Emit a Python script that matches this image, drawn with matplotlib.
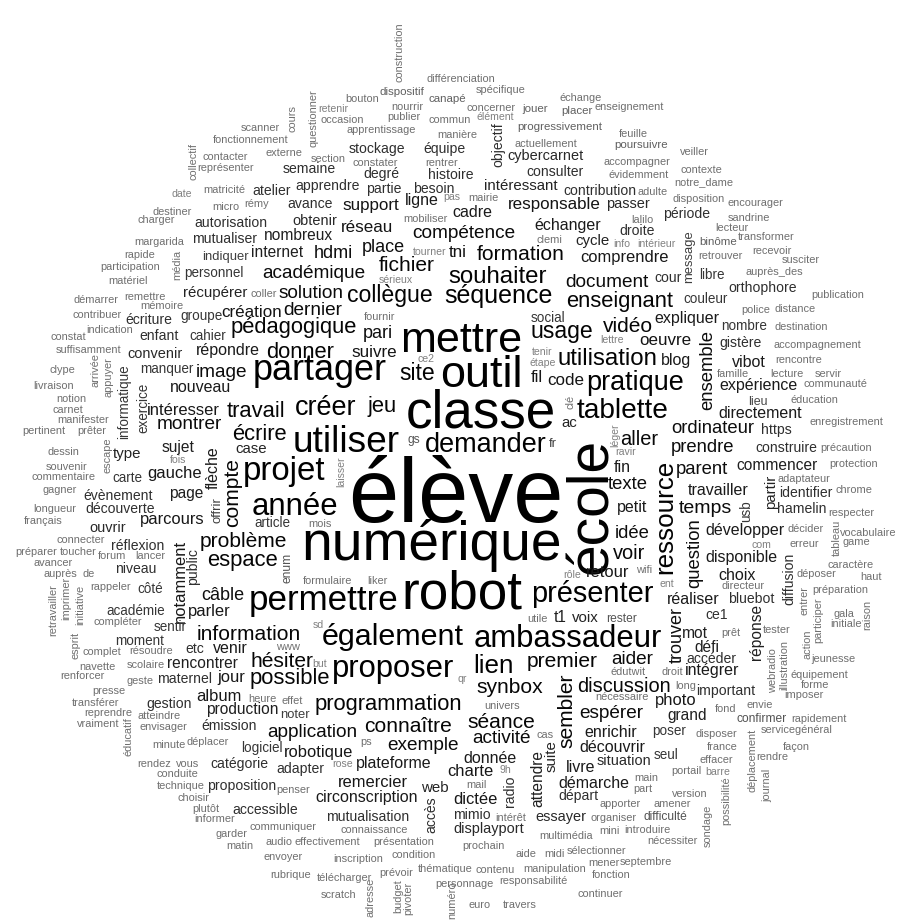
import matplotlib
matplotlib.use("Agg")
import matplotlib.pyplot as plt
import numpy as np

W, H = 905, 922

# word counts, biggest words listed one by one
top_words = ["élève", "école", "numérique", "classe", "robot", "outil", "mettre", "utiliser",
             "partager", "permettre", "projet", "année", "ambassadeur", "proposer", "également",
             "présenter", "tablette", "pratique", "demander", "créer", "ressource", "lien",
             "séquence", "souhaiter", "utilisation", "collègue", "usage", "site",
             "enseignant", "pédagogique", "donner", "travail", "écrire", "jeu", "espace",
             "possible", "programmation", "sembler", "compte", "fichier", "hésiter", "formation",
             "vidéo", "problème", "information", "connaître", "séance", "synbox", "premier",
             "aller", "voir", "discussion", "temps"]
top_freq = [160, 94, 90, 86, 86, 70, 66, 54,
            52, 50, 46, 42, 42, 42, 41,
            38, 36, 34, 34, 34, 32, 32,
            30, 28, 28, 26, 26, 26,
            24, 24, 24, 24, 24, 24, 24,
            24, 24, 22, 22, 22, 22, 22,
            22, 22, 22, 22, 22, 22, 22,
            20, 20, 20, 19]

n18 = ["document", "compétence", "académique", "solution", "dernier", "image", "montrer",
       "activité", "exemple", "application", "espérer", "aider"]
n17 = ["ordinateur", "prendre", "parent", "texte", "idée", "question", "ensemble"]
n16 = ["câble", "trouver", "hdmi", "place", "pari"]
n14 = ["support", "réseau", "responsable", "création", "oeuvre", "suivre", "code", "tni"]
n13 = ["comprendre", "notamment", "retour", "photo", "robotique", "charte", "remercier",
       "dictée", "album", "gauche", "parcours", "parler", "jour", "intéresser", "fil"]
n12 = ["flèche", "ligne", "cadre", "échanger", "expliquer", "blog", "expérience",
       "directement", "vibot", "fin", "travailler", "petit", "développer", "disponible",
       "choix", "réaliser", "intégrer", "enrichir", "découvrir", "démarche", "livre",
       "donnée", "plateforme", "circonscription", "venir", "répondre", "nouveau"]
n11 = ["commencer", "mot", "défi", "grand", "t1", "production", "page", "rencontrer",
       "nombreux", "internet", "sujet", "attendre", "réponse"]
n10 = ["voix", "web", "récupérer", "case", "type", "cycle", "ac", "intéressant", "suite",
       "partir"]
n9 = ["passer", "obtenir", "cybercarnet", "situation", "essayer", "displayport", "ouvrir",
      "convenir"]
n8 = ["semaine", "atelier", "apprendre", "avance", "autorisation", "stockage", "équipe",
      "degré", "histoire", "consulter", "partie", "besoin", "contribution", "période",
      "droite", "cour", "orthophore", "gistère", "https", "construire", "identifier",
      "hamelin", "bluebot", "ce1", "accéder", "important", "départ", "mutualisation",
      "mimio", "adapter", "gestion", "émission", "catégorie", "proposition", "accessible",
      "évènement", "découverte", "réflexion", "niveau", "etc", "maternel", "mutualiser",
      "écriture", "enfant", "objectif", "public", "radio", "accès", "diffusion"]
n7 = ["couleur", "libre", "nombre", "poser", "seul", "logiciel", "carte", "article", "côté",
      "académie", "sentir", "moment", "personnel", "groupe", "cahier", "manquer", "social",
      "informatique", "exercice", "usb"]
n6 = ["indiquer", "noter", "message", "offrir", "fr"]
n5 = ["lieu"]
n4 = ["rester", "difficulté", "confirmer", "enum", "gs"]
n3 = ["binôme", "dispositif", "canapé", "jouer", "placer", "progressivement", "poursuivre"]
n2 = ["cours", "scanner", "fonctionnement", "externe", "collectif", "contacter",
      "représenter", "matricité", "micro", "rémy", "destiner", "charger",
      "construction", "différenciation", "questionner", "spécifique", "bouton", "échange",
      "nourrir", "concerner", "enseignement", "occasion", "publier", "commun",
      "apprentissage", "manière", "actuellement", "section", "constater", "rentrer",
      "mairie", "mobiliser",
      "feuille", "veiller", "accompagner", "contexte", "évidemment", "notre_dame", "adulte",
      "disposition", "encourager", "lalilo", "sandrine", "lecteur", "transformer",
      "recevoir", "retrouver", "susciter", "auprès_des", "publication", "police",
      "distance", "destination", "accompagnement", "rencontre", "famille", "lecture",
      "servir", "communauté", "éducation", "enregistrement", "précaution",
      "protection", "adaptateur", "chrome", "respecter", "décider", "tableau",
      "vocabulaire", "game", "erreur", "caractère", "déposer", "haut", "directeur",
      "préparation", "entrer", "participer", "raison", "gala", "initiale", "prêt", "tester",
      "action", "webradio", "illustration", "jeunesse", "édutwit", "droit", "équipement",
      "long", "forme", "wifi",
      "nécessaire", "imposer", "envie", "fond", "rapidement", "disposer", "déplacement",
      "servicegénéral", "france", "façon", "effacer", "rendre", "portail", "journal",
      "possibilité", "main", "part", "version", "apporter", "amener", "sondage",
      "organiser", "mini", "introduire", "nécessiter", "sélectionner", "mener",
      "septembre", "fonction", "continuer",
      "univers", "cas", "ps", "mail", "intérêt", "connaissance", "multimédia",
      "effectivement", "audio", "présentation", "prochain", "condition", "inscription",
      "aide", "midi", "thématique", "contenu", "manipulation", "télécharger", "prévoir",
      "personnage", "responsabilité", "scratch", "adresse", "budget", "pivoter", "numéro",
      "euro", "travers", "rubrique", "envoyer", "communiquer", "penser",
      "presse", "transférer", "reprendre", "vraiment", "éducatif", "atteindre",
      "envisager", "heure", "effet", "minute", "déplacer", "rendez", "vous", "conduite",
      "technique", "choisir", "plutôt", "informer", "garder", "matin",
      "souvenir", "escape", "commentaire", "gagner", "longueur", "français", "connecter",
      "préparer", "toucher", "forum", "lancer", "avancer", "auprès", "de", "retravailler",
      "imprimer", "initiative", "rappeler", "esprit", "compléter", "www", "complet",
      "résoudre", "navette", "scolaire", "renforcer", "geste", "mois", "formulaire",
      "liker", "utile",
      "margarida", "rapide", "média", "participation", "matériel", "démarrer", "remettre",
      "coller", "mémoire", "contribuer", "indication", "constat", "suffisamment", "clype",
      "arrivée", "appuyer", "livraison", "notion", "carnet", "manifester", "pertinent",
      "prêter", "dessin", "fournir", "clemi", "clé"]
n1 = ["date", "retenir", "élément", "pas", "sérieux", "tourner", "ce2", "tenir", "étape",
      "lettre", "léger", "ravir", "info", "intérieur", "com", "ent", "sd", "but", "qr",
      "rôle", "laisser", "9h", "rose", "fois", "barre"]

words = list(top_words)
freq = list(top_freq)
for count, group in [(18, n18), (17, n17), (16, n16), (14, n14), (13, n13), (12, n12),
                     (11, n11), (10, n10), (9, n9), (8, n8), (7, n7), (6, n6), (5, n5),
                     (4, n4), (3, n3), (2, n2), (1, n1)]:
    words += group
    freq += [count] * len(group)

# placement: x centre, y (baseline if flat, centre if vertical), rotation
layout = {
    "élève": (456, 522, 0), "école": (592, 506, 90), "numérique": (432, 560, 0),
    "classe": (481, 427, 0), "robot": (462, 608, 0), "outil": (481, 387, 0),
    "mettre": (461, 352, 0), "utiliser": (346, 452, 0), "partager": (320, 380, 0),
    "permettre": (324, 610, 0), "projet": (284, 480, 0), "année": (295, 515, 0),
    "ambassadeur": (568, 647, 0), "proposer": (393, 677, 0), "également": (393, 645, 0),
    "présenter": (592, 602, 0), "tablette": (623, 418, 0), "pratique": (635, 390, 0),
    "demander": (486, 452, 0), "créer": (326, 415, 0), "ressource": (665, 517, 90),
    "lien": (493, 673, 0), "séquence": (498, 303, 0), "souhaiter": (498, 283, 0),
    "utilisation": (607, 365, 0), "collègue": (390, 302, 0), "usage": (562, 338, 0),
    "site": (417, 380, 0), "enseignant": (620, 307, 0), "pédagogique": (294, 333, 0),
    "donner": (300, 358, 0), "travail": (256, 417, 0), "écrire": (259, 440, 0),
    "jeu": (382, 412, 0), "espace": (242, 566, 0), "possible": (290, 684, 0),
    "programmation": (388, 710, 0), "sembler": (567, 711, 90), "compte": (233, 493, 90),
    "fichier": (407, 271, 0), "hésiter": (282, 667, 0), "formation": (521, 260, 0),
    "vidéo": (628, 332, 0), "problème": (243, 547, 0), "information": (249, 640, 0),
    "connaître": (408, 732, 0), "séance": (501, 728, 0), "synbox": (510, 693, 0),
    "premier": (562, 667, 0), "aller": (639, 445, 0), "voir": (629, 559, 0),
    "discussion": (624, 692, 0), "temps": (705, 513, 0),
    "document": (607, 287, 0), "compétence": (464, 238, 0), "académique": (314, 278, 0),
    "solution": (311, 298, 0), "dernier": (313, 315, 0), "image": (221, 377, 0),
    "montrer": (189, 429, 0), "activité": (501, 743, 0), "exemple": (423, 750, 0),
    "application": (312, 737, 0), "espérer": (611, 718, 0), "aider": (632, 664, 0),
    "ordinateur": (713, 433, 0), "prendre": (703, 452, 0), "parent": (702, 474, 0),
    "texte": (628, 489, 0), "idée": (632, 538, 0), "question": (695, 553, 90),
    "ensemble": (708, 370, 90), "câble": (223, 600, 0), "trouver": (677, 635, 90),
    "hdmi": (333, 258, 0), "place": (383, 252, 0), "pari": (378, 338, 0),
    "support": (371, 210, 0), "réseau": (367, 232, 0), "responsable": (554, 209, 0),
    "création": (252, 317, 0), "oeuvre": (665, 345, 0), "suivre": (374, 357, 0),
    "code": (566, 385, 0), "tni": (458, 257, 0),
    "comprendre": (624, 262, 0), "notamment": (180, 581, 90), "retour": (608, 577, 0),
    "photo": (676, 705, 0), "robotique": (319, 757, 0), "charte": (470, 776, 0),
    "remercier": (373, 787, 0), "dictée": (475, 804, 0), "album": (219, 701, 0),
    "gauche": (175, 478, 0), "parcours": (172, 524, 0), "parler": (209, 616, 0),
    "jour": (231, 682, 0), "intéresser": (183, 415, 0), "fil": (537, 382, 0),
    "flèche": (213, 468, 90), "ligne": (422, 205, 0), "cadre": (472, 217, 0),
    "échanger": (568, 230, 0), "expliquer": (687, 323, 0), "blog": (676, 365, 0),
    "expérience": (758, 390, 0), "directement": (760, 418, 0), "vibot": (749, 367, 0),
    "fin": (622, 472, 0), "travailler": (718, 495, 0), "petit": (632, 512, 0),
    "développer": (745, 535, 0), "disponible": (741, 562, 0), "choix": (737, 580, 0),
    "réaliser": (693, 604, 0), "intégrer": (712, 675, 0), "enrichir": (611, 737, 0),
    "découvrir": (612, 752, 0), "démarche": (594, 788, 0), "livre": (581, 772, 0),
    "donnée": (490, 763, 0), "plateforme": (394, 768, 0), "circonscription": (367, 802, 0),
    "venir": (230, 653, 0), "répondre": (228, 355, 0), "nouveau": (201, 392, 0),
    "commencer": (777, 470, 0), "mot": (695, 638, 0), "défi": (707, 652, 0),
    "grand": (687, 720, 0), "t1": (560, 622, 0), "production": (242, 714, 0),
    "page": (186, 498, 0), "rencontrer": (202, 668, 0), "nombreux": (298, 240, 0),
    "internet": (277, 257, 0), "sujet": (178, 452, 0), "attendre": (538, 778, 90),
    "réponse": (756, 632, 90),
    "voix": (585, 622, 0), "web": (435, 792, 0), "récupérer": (215, 297, 0),
    "case": (251, 453, 0), "type": (127, 458, 0), "cycle": (592, 245, 0),
    "ac": (569, 427, 0), "intéressant": (521, 190, 0), "suite": (552, 756, 90),
    "partir": (771, 492, 90),
    "passer": (628, 208, 0), "obtenir": (315, 225, 0), "cybercarnet": (545, 160, 0),
    "situation": (624, 765, 0), "essayer": (561, 821, 0), "displayport": (489, 833, 0),
    "ouvrir": (108, 532, 0), "convenir": (155, 358, 0),
    "semaine": (309, 173, 0), "atelier": (272, 195, 0), "apprendre": (328, 190, 0),
    "avance": (310, 208, 0), "autorisation": (231, 227, 0), "stockage": (377, 153, 0),
    "équipe": (444, 153, 0), "degré": (381, 178, 0), "histoire": (451, 179, 0),
    "consulter": (555, 176, 0), "partie": (384, 193, 0), "besoin": (434, 193, 0),
    "contribution": (600, 195, 0), "période": (687, 218, 0), "droite": (637, 235, 0),
    "cour": (668, 282, 0), "orthophore": (763, 292, 0), "gistère": (740, 347, 0),
    "https": (776, 434, 0), "construire": (786, 452, 0), "identifier": (806, 497, 0),
    "hamelin": (802, 513, 0), "bluebot": (751, 603, 0), "ce1": (717, 619, 0),
    "accéder": (711, 663, 0), "important": (726, 695, 0), "départ": (578, 800, 0),
    "mutualisation": (368, 821, 0), "mimio": (472, 819, 0), "adapter": (300, 773, 0),
    "gestion": (169, 708, 0), "émission": (229, 730, 0), "catégorie": (239, 768, 0),
    "proposition": (242, 790, 0), "accessible": (265, 814, 0), "évènement": (118, 500, 0),
    "découverte": (120, 513, 0), "réflexion": (138, 550, 0), "niveau": (136, 573, 0),
    "etc": (195, 653, 0), "maternel": (185, 683, 0), "mutualiser": (225, 243, 0),
    "écriture": (149, 324, 0), "enfant": (159, 340, 0), "objectif": (498, 145, 90),
    "public": (193, 567, 90), "radio": (510, 791, 90), "accès": (431, 815, 90),
    "diffusion": (789, 579, 90),
    "couleur": (706, 303, 0), "libre": (712, 279, 0), "nombre": (744, 330, 0),
    "poser": (669, 735, 0), "seul": (666, 759, 0), "logiciel": (262, 752, 0),
    "carte": (127, 482, 0), "article": (272, 527, 0), "côté": (150, 593, 0),
    "académie": (136, 615, 0), "sentir": (170, 631, 0), "moment": (140, 645, 0),
    "personnel": (214, 277, 0), "groupe": (201, 320, 0), "cahier": (208, 340, 0),
    "manquer": (167, 373, 0), "social": (548, 322, 0), "informatique": (124, 402, 90),
    "exercice": (143, 408, 90), "usb": (746, 511, 90),
    "indiquer": (225, 260, 0), "noter": (295, 718, 0), "message": (689, 257, 90),
    "offrir": (217, 510, 90), "fr": (553, 447, 0), "lieu": (758, 405, 0),
    "rester": (622, 622, 0), "difficulté": (665, 820, 0), "confirmer": (762, 722, 0),
    "enum": (287, 568, 90), "gs": (414, 443, 0),
    "binôme": (718, 245, 0), "dispositif": (402, 95, 0), "canapé": (447, 102, 0),
    "jouer": (535, 112, 0), "placer": (577, 114, 0), "progressivement": (560, 130, 0),
    "poursuivre": (641, 148, 0),
    "cours": (292, 119, 90), "scanner": (260, 131, 0), "fonctionnement": (251, 143, 0),
    "externe": (284, 156, 0), "collectif": (193, 162, 90), "contacter": (225, 160, 0),
    "représenter": (226, 171, 0), "matricité": (224, 193, 0), "micro": (226, 210, 0),
    "rémy": (257, 207, 0), "destiner": (172, 215, 0), "charger": (156, 223, 0),
    "construction": (399, 52, 90), "différenciation": (461, 82, 0),
    "questionner": (313, 118, 90), "spécifique": (501, 93, 0), "bouton": (362, 102, 0),
    "échange": (581, 101, 0), "nourrir": (407, 110, 0), "concerner": (491, 111, 0),
    "enseignement": (629, 110, 0), "occasion": (342, 123, 0), "publier": (404, 120, 0),
    "commun": (450, 123, 0), "apprentissage": (381, 133, 0), "manière": (457, 138, 0),
    "actuellement": (546, 147, 0), "section": (328, 162, 0), "constater": (375, 166, 0),
    "rentrer": (442, 166, 0), "mairie": (483, 201, 0), "mobiliser": (425, 222, 0),
    "feuille": (633, 137, 0), "veiller": (694, 155, 0), "accompagner": (637, 165, 0),
    "contexte": (701, 173, 0), "évidemment": (639, 178, 0), "notre_dame": (704, 185, 0),
    "adulte": (653, 195, 0), "disposition": (699, 202, 0), "encourager": (755, 206, 0),
    "lalilo": (642, 223, 0), "sandrine": (749, 221, 0), "lecteur": (732, 231, 0),
    "transformer": (766, 240, 0), "recevoir": (772, 254, 0), "retrouver": (720, 259, 0),
    "susciter": (801, 263, 0), "auprès_des": (774, 275, 0), "publication": (838, 298, 0),
    "police": (756, 313, 0), "distance": (795, 312, 0), "destination": (801, 330, 0),
    "accompagnement": (817, 348, 0), "rencontre": (799, 363, 0), "famille": (733, 377, 0),
    "lecture": (787, 377, 0), "servir": (828, 377, 0), "communauté": (835, 387, 0),
    "éducation": (814, 403, 0), "enregistrement": (846, 425, 0),
    "précaution": (846, 451, 0),
    "protection": (854, 467, 0), "adaptateur": (804, 482, 0), "chrome": (854, 493, 0),
    "respecter": (851, 516, 0), "décider": (806, 532, 0), "tableau": (837, 538, 90),
    "vocabulaire": (868, 536, 0), "game": (856, 545, 0), "erreur": (804, 547, 0),
    "caractère": (851, 568, 0), "déposer": (816, 577, 0), "haut": (871, 580, 0),
    "directeur": (743, 589, 0), "préparation": (840, 593, 0), "entrer": (804, 600, 90),
    "participer": (818, 620, 90), "raison": (867, 615, 90), "gala": (844, 617, 0),
    "initiale": (846, 627, 0), "prêt": (731, 636, 0), "tester": (777, 633, 0),
    "action": (807, 644, 90), "webradio": (773, 671, 90), "illustration": (784, 665, 90),
    "jeunesse": (833, 662, 0), "édutwit": (628, 675, 0), "droit": (672, 675, 0),
    "équipement": (819, 678, 0), "long": (686, 689, 0), "forme": (815, 688, 0),
    "wifi": (644, 573, 0),
    "nécessaire": (622, 700, 0), "imposer": (804, 698, 0), "envie": (760, 708, 0),
    "fond": (726, 712, 0), "rapidement": (819, 722, 0), "disposer": (716, 737, 0),
    "déplacement": (752, 760, 90), "servicegénéral": (797, 733, 0), "france": (722, 750, 0),
    "façon": (796, 750, 0), "effacer": (716, 763, 0), "rendre": (772, 760, 0),
    "portail": (686, 774, 0), "journal": (767, 785, 90), "possibilité": (726, 801, 90),
    "main": (646, 781, 0), "part": (643, 792, 0), "version": (690, 797, 0),
    "apporter": (620, 807, 0), "amener": (672, 807, 0), "sondage": (708, 826, 90),
    "organiser": (614, 821, 0), "mini": (609, 834, 0), "introduire": (647, 833, 0),
    "nécessiter": (672, 844, 0), "sélectionner": (597, 854, 0), "mener": (604, 866, 0),
    "septembre": (646, 865, 0), "fonction": (611, 878, 0), "continuer": (600, 897, 0),
    "univers": (502, 709, 0), "cas": (545, 738, 0), "ps": (366, 745, 0),
    "mail": (476, 788, 0), "intérêt": (511, 821, 0), "connaissance": (374, 833, 0),
    "multimédia": (566, 839, 0), "effectivement": (327, 845, 0), "audio": (279, 845, 0),
    "présentation": (404, 845, 0), "prochain": (483, 849, 0), "condition": (414, 858, 0),
    "inscription": (358, 862, 0), "aide": (526, 857, 0), "midi": (554, 857, 0),
    "thématique": (445, 872, 0), "contenu": (495, 873, 0), "manipulation": (555, 872, 0),
    "télécharger": (344, 881, 0), "prévoir": (396, 876, 0), "personnage": (464, 887, 0),
    "responsabilité": (533, 884, 0), "scratch": (339, 898, 0), "adresse": (370, 897, 90),
    "budget": (398, 896, 90), "pivoter": (408, 898, 90), "numéro": (452, 900, 90),
    "euro": (480, 908, 0), "travers": (520, 908, 0), "rubrique": (291, 878, 0),
    "envoyer": (283, 860, 0), "communiquer": (283, 830, 0), "penser": (293, 793, 0),
    "presse": (109, 694, 0), "transférer": (96, 706, 0), "reprendre": (108, 716, 0),
    "vraiment": (98, 727, 0), "éducatif": (128, 737, 90), "atteindre": (159, 719, 0),
    "envisager": (163, 730, 0), "heure": (262, 702, 0), "effet": (292, 704, 0),
    "minute": (169, 748, 0), "déplacer": (208, 745, 0), "rendez": (154, 767, 0),
    "vous": (188, 767, 0), "conduite": (177, 777, 0), "technique": (181, 789, 0),
    "choisir": (193, 801, 0), "plutôt": (206, 812, 0), "informer": (215, 822, 0),
    "garder": (231, 837, 0), "matin": (240, 849, 0),
    "souvenir": (67, 470, 0), "escape": (107, 455, 90), "commentaire": (63, 480, 0),
    "gagner": (60, 493, 0), "longueur": (55, 512, 0), "français": (43, 524, 0),
    "connecter": (81, 543, 0), "préparer": (36, 555, 0), "toucher": (78, 555, 0),
    "forum": (112, 559, 0), "lancer": (150, 559, 0), "avancer": (53, 566, 0),
    "auprès": (60, 577, 0), "de": (89, 577, 0), "retravailler": (53, 610, 90),
    "imprimer": (66, 598, 90), "initiative": (80, 605, 90), "rappeler": (111, 590, 0),
    "esprit": (75, 645, 90), "compléter": (118, 625, 0), "www": (288, 650, 0),
    "complet": (102, 655, 0), "résoudre": (151, 654, 0), "navette": (97, 670, 0),
    "scolaire": (146, 668, 0), "renforcer": (82, 679, 0), "geste": (140, 684, 0),
    "mois": (320, 527, 0), "formulaire": (327, 584, 0), "liker": (377, 584, 0),
    "utile": (537, 622, 0),
    "margarida": (159, 245, 0), "rapide": (140, 258, 0), "média": (177, 265, 90),
    "participation": (130, 270, 0), "matériel": (128, 284, 0), "démarrer": (96, 303, 0),
    "remettre": (145, 300, 0), "coller": (264, 297, 0), "mémoire": (162, 309, 0),
    "contribuer": (97, 318, 0), "indication": (110, 333, 0), "constat": (68, 340, 0),
    "suffisamment": (89, 353, 0), "clype": (62, 373, 0), "arrivée": (95, 370, 90),
    "appuyer": (108, 377, 90), "livraison": (54, 389, 0), "notion": (71, 402, 0),
    "carnet": (68, 413, 0), "manifester": (83, 423, 0), "pertinent": (44, 434, 0),
    "prêter": (92, 434, 0), "dessin": (63, 455, 0), "fournir": (380, 320, 0),
    "clemi": (549, 243, 0), "clé": (570, 402, 90),
    "date": (182, 197, 0), "retenir": (333, 112, 0), "élément": (495, 120, 0),
    "pas": (452, 200, 0), "sérieux": (396, 283, 0), "tourner": (430, 255, 0),
    "ce2": (426, 362, 0), "tenir": (542, 355, 0), "étape": (543, 366, 0),
    "lettre": (612, 343, 0), "léger": (615, 435, 90), "ravir": (626, 455, 0),
    "info": (622, 247, 0), "intérieur": (656, 247, 0), "com": (761, 548, 0),
    "ent": (667, 587, 0), "sd": (318, 628, 0), "but": (320, 667, 0), "qr": (462, 682, 0),
    "rôle": (572, 578, 0), "laisser": (341, 472, 90), "9h": (505, 773, 0),
    "rose": (343, 767, 0), "fois": (178, 463, 0), "barre": (718, 775, 0),
}


def word_size(f):
    # font size in pixels grows linearly with the count
    return 10.5 + (f - 1) * 0.5


def word_colour(f):
    g = 0.5 * np.exp(-(f - 1) / 7.0)
    return (g, g, g)


fig = plt.figure(figsize=(W / 100, H / 100), dpi=100)
ax = fig.add_axes([0, 0, 1, 1])
ax.set_xlim(0, W)
ax.set_ylim(H, 0)
ax.axis("off")

for w, f in zip(words, freq):
    x, y, rot = layout[w]
    ax.text(x, y, w, fontsize=word_size(f) * 0.72, rotation=rot,
            ha="center", va="baseline" if rot == 0 else "center",
            color=word_colour(f), family="Liberation Sans")

fig.savefig("out.png", dpi=100, facecolor="white")
